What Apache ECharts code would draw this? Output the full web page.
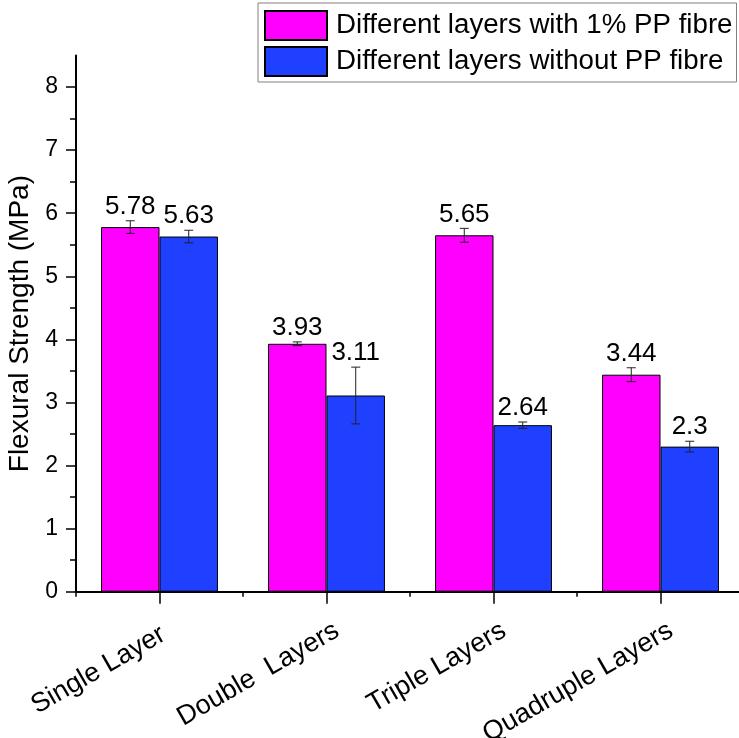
<!DOCTYPE html>
<html><head><meta charset="utf-8">
<script src="https://cdn.jsdelivr.net/npm/echarts@6/dist/echarts.min.js"></script>
<style>html,body{margin:0;padding:0;background:#fff}#c{width:739px;height:738px}</style>
</head><body><div id="c"></div>
<script>
const categories = ['Single Layer ', 'Double  Layers', 'Triple Layers', 'Quadruple Layers'];
const seriesNames = ['Different layers with 1% PP fibre', 'Different layers without PP fibre'];
const withPP = [5.78, 3.93, 5.65, 3.44];
const withPPErr = [0.10, 0.03, 0.11, 0.11];
const withoutPP = [5.63, 3.11, 2.64, 2.3];
const withoutPPErr = [0.10, 0.45, 0.05, 0.085];
const yTicks = [0, 1, 2, 3, 4, 5, 6, 7, 8];

const FF = '"Liberation Sans", Arial, sans-serif';
const chart = echarts.init(document.getElementById('c'), null, {renderer: 'canvas'});

function errSeries(vals, errs, side) {
  return {
    type: 'custom',
    name: 'err' + side,
    xAxisIndex: 0, yAxisIndex: 0,
    z: 10,
    data: vals.map((v, i) => [i, v, errs[i]]),
    encode: {x: 0, y: 1},
    renderItem(params, api) {
      const i = api.value(0), v = api.value(1), e = api.value(2);
      const band = api.size([1, 0])[0];
      const off = side * band * 0.175;
      const top = api.coord([i, v + e]);
      const bot = api.coord([i, v - e]);
      const x = top[0] + off;
      const cw = 4.5;
      const st = {stroke: '#222', lineWidth: 1};
      return {type: 'group', children: [
        {type: 'line', shape: {x1: x, y1: top[1], x2: x, y2: bot[1]}, style: st},
        {type: 'line', shape: {x1: x - cw, y1: top[1], x2: x + cw, y2: top[1]}, style: st},
        {type: 'line', shape: {x1: x - cw, y1: bot[1], x2: x + cw, y2: bot[1]}, style: st},
        {type: 'text', x: x, y: top[1] - 1, style: {text: String(v), fill: '#000', font: '26px ' + FF, align: 'center', verticalAlign: 'bottom'}}
      ]};
    }
  };
}

const option = {
  animation: false,
  backgroundColor: '#fff',
  grid: {left: 76, top: 55.5, width: 668, height: 536.2, outerBoundsMode: 'none', containLabel: false},
  legend: {
    data: seriesNames, orient: 'vertical', left: 258, top: 3,
    itemWidth: 62, itemHeight: 29, itemGap: 5,
    padding: [7, 4, 5, 6],
    borderColor: '#808080', borderWidth: 1,
    icon: 'rect', selectedMode: false,
    textStyle: {fontSize: 27.7, color: '#000', fontFamily: FF, lineHeight: 29, padding: [0, 0, 0, 4]}
  },
  xAxis: [{
    type: 'category', data: categories, position: 'bottom',
    axisLine: {lineStyle: {color: '#000', width: 2}},
    axisTick: {show: true, alignWithLabel: false, length: 5, lineStyle: {color: '#000', width: 1.5}},
    axisLabel: {rotate: 30, margin: 43, fontSize: 27, color: '#000', fontFamily: FF, interval: 0, padding: [0, -12, 0, 0]},
    splitLine: {show: false}
  }, {
    type: 'category', data: categories, position: 'bottom',
    axisLine: {show: false},
    axisTick: {show: true, alignWithLabel: true, length: 12, lineStyle: {color: '#000', width: 1.5}},
    axisLabel: {show: false},
    splitLine: {show: false}
  }],
  yAxis: {
    type: 'value', min: 0, max: 8.5, interval: 1,
    name: 'Flexural Strength (MPa)', nameLocation: 'middle', nameGap: 27,
    nameTextStyle: {fontSize: 28, color: '#000', fontFamily: FF},
    axisLine: {show: true, lineStyle: {color: '#000', width: 2}},
    axisTick: {show: true, length: 10, customValues: yTicks, lineStyle: {color: '#000', width: 1.5}},
    minorTick: {show: true, splitNumber: 2, length: 6, lineStyle: {color: '#000', width: 1.5}},
    axisLabel: {customValues: yTicks, margin: 18, fontSize: 23, color: '#000', fontFamily: FF},
    splitLine: {show: false}
  },
  series: [
    {type: 'bar', name: seriesNames[0], data: withPP, barGap: '0%', barCategoryGap: '30%',
     itemStyle: {color: '#FF00FF', borderColor: '#000', borderWidth: 1}},
    {type: 'bar', name: seriesNames[1], data: withoutPP, barGap: '0%', barCategoryGap: '30%',
     itemStyle: {color: '#2040FF', borderColor: '#000', borderWidth: 1}},
    errSeries(withPP, withPPErr, -1),
    errSeries(withoutPP, withoutPPErr, 1)
  ]
};
chart.setOption(option);
</script>
</body></html>
